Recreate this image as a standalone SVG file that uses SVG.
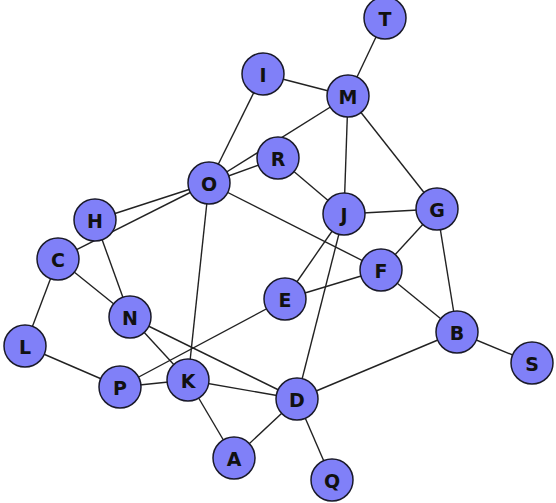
<svg xmlns="http://www.w3.org/2000/svg" width="556" height="503" viewBox="0 0 556 503">
<style>
.e{stroke:#222;stroke-width:1.4;fill:none}
.n circle{fill:#8080f8;stroke:#1a1a2a;stroke-width:1.5}
.n text{font-family:"DejaVu Sans",sans-serif;font-weight:bold;font-size:19px;fill:#111;text-anchor:middle;dominant-baseline:central}
</style>
<rect width="556" height="503" fill="#fff"/>
<g id="edges" class="e">
<line x1="385" y1="18" x2="348" y2="96"/>
<line x1="263" y1="74" x2="348" y2="96"/>
<line x1="263" y1="74" x2="209" y2="183"/>
<line x1="348" y1="96" x2="209" y2="183"/>
<line x1="348" y1="96" x2="344" y2="214"/>
<line x1="348" y1="96" x2="437" y2="209"/>
<line x1="209" y1="183" x2="278" y2="158"/>
<line x1="209" y1="183" x2="95" y2="220"/>
<line x1="209" y1="183" x2="58" y2="259"/>
<line x1="209" y1="183" x2="188" y2="380"/>
<line x1="209" y1="183" x2="381" y2="270"/>
<line x1="278" y1="158" x2="344" y2="214"/>
<line x1="344" y1="214" x2="437" y2="209"/>
<line x1="344" y1="214" x2="285" y2="299"/>
<line x1="344" y1="214" x2="297" y2="399"/>
<line x1="437" y1="209" x2="381" y2="270"/>
<line x1="437" y1="209" x2="457" y2="332"/>
<line x1="381" y1="270" x2="285" y2="299"/>
<line x1="381" y1="270" x2="457" y2="332"/>
<line x1="285" y1="299" x2="120" y2="387"/>
<line x1="457" y1="332" x2="532" y2="363"/>
<line x1="457" y1="332" x2="297" y2="399"/>
<line x1="95" y1="220" x2="130" y2="317"/>
<line x1="58" y1="259" x2="130" y2="317"/>
<line x1="58" y1="259" x2="25" y2="346"/>
<line x1="25" y1="346" x2="120" y2="387"/>
<line x1="120" y1="387" x2="188" y2="380"/>
<line x1="130" y1="317" x2="188" y2="380"/>
<line x1="130" y1="317" x2="297" y2="399"/>
<line x1="188" y1="380" x2="297" y2="399"/>
<line x1="188" y1="380" x2="234" y2="458"/>
<line x1="234" y1="458" x2="297" y2="399"/>
<line x1="297" y1="399" x2="332" y2="480"/>
</g>
<g id="T" class="n"><circle cx="385" cy="18" r="21"/><text x="385" y="19">T</text></g>
<g id="I" class="n"><circle cx="263" cy="74" r="21"/><text x="263" y="75">I</text></g>
<g id="M" class="n"><circle cx="348" cy="96" r="21"/><text x="348" y="97">M</text></g>
<g id="R" class="n"><circle cx="278" cy="158" r="21"/><text x="278" y="159">R</text></g>
<g id="O" class="n"><circle cx="209" cy="183" r="21"/><text x="209" y="184">O</text></g>
<g id="J" class="n"><circle cx="344" cy="214" r="21"/><text x="344" y="215">J</text></g>
<g id="G" class="n"><circle cx="437" cy="209" r="21"/><text x="437" y="210">G</text></g>
<g id="H" class="n"><circle cx="95" cy="220" r="21"/><text x="95" y="221">H</text></g>
<g id="C" class="n"><circle cx="58" cy="259" r="21"/><text x="58" y="260">C</text></g>
<g id="F" class="n"><circle cx="381" cy="270" r="21"/><text x="381" y="271">F</text></g>
<g id="E" class="n"><circle cx="285" cy="299" r="21"/><text x="285" y="300">E</text></g>
<g id="N" class="n"><circle cx="130" cy="317" r="21"/><text x="130" y="318">N</text></g>
<g id="B" class="n"><circle cx="457" cy="332" r="21"/><text x="457" y="333">B</text></g>
<g id="S" class="n"><circle cx="532" cy="363" r="21"/><text x="532" y="364">S</text></g>
<g id="L" class="n"><circle cx="25" cy="346" r="21"/><text x="25" y="347">L</text></g>
<g id="P" class="n"><circle cx="120" cy="387" r="21"/><text x="120" y="388">P</text></g>
<g id="K" class="n"><circle cx="188" cy="380" r="21"/><text x="188" y="381">K</text></g>
<g id="D" class="n"><circle cx="297" cy="399" r="21"/><text x="297" y="400">D</text></g>
<g id="A" class="n"><circle cx="234" cy="458" r="21"/><text x="234" y="459">A</text></g>
<g id="Q" class="n"><circle cx="332" cy="480" r="21"/><text x="332" y="481">Q</text></g>
</svg>
